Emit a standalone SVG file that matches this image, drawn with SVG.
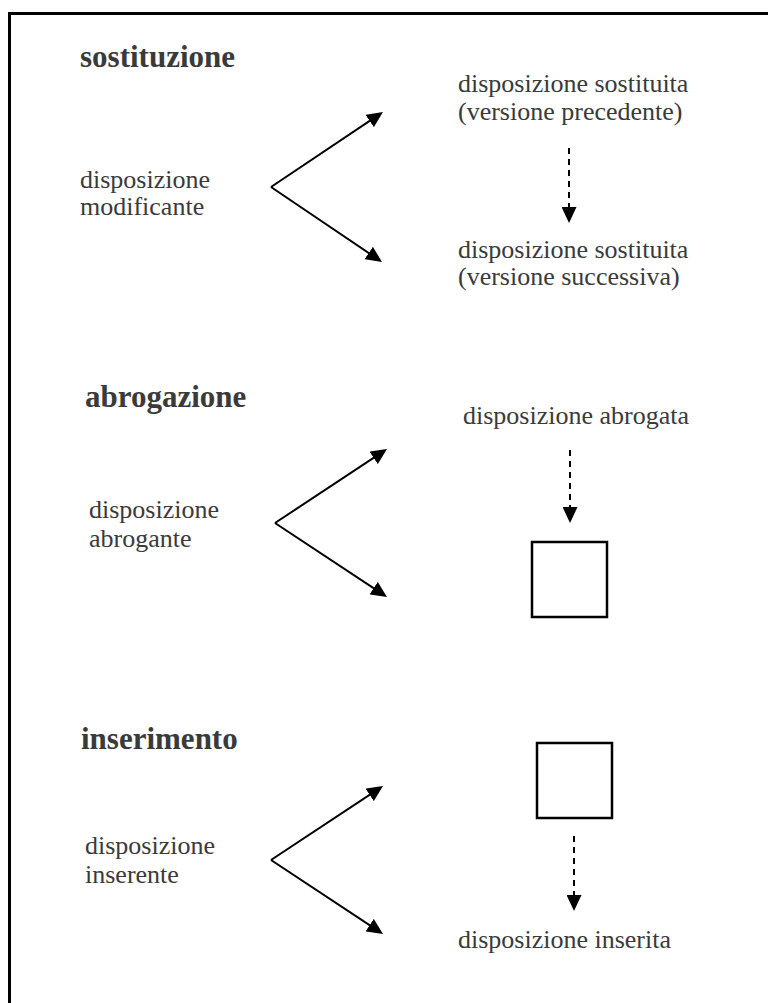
<svg xmlns="http://www.w3.org/2000/svg" width="768" height="1003" viewBox="0 0 768 1003">
  <style>
    text { font-family: "Liberation Serif", "Times New Roman", Times, serif; fill: #3a3a3a; }
    .title { font-weight: bold; font-size: 31px; }
    .label { font-size: 26px; }
    .arrow { fill: none; stroke: #000; stroke-width: 2; marker-end: url(#head); }
    .dashed { fill: none; stroke: #000; stroke-width: 2; stroke-dasharray: 6 5; marker-end: url(#head); }
    .box { fill: #fff; stroke: #000; stroke-width: 2.5; }
    .frame { fill: none; stroke: #000; stroke-width: 3; }
  </style>
  <defs>
    <marker id="head" markerUnits="userSpaceOnUse" markerWidth="17" markerHeight="15" refX="13" refY="7.5" orient="auto">
      <path d="M0,0 L16,7.5 L0,15 z" fill="#000"/>
    </marker>
  </defs>

  <rect width="768" height="1003" fill="#fff"/>
  <!-- page frame: top and left edges -->
  <path class="frame" d="M9.5,1003 V13.5 H768"/>

  <!-- sostituzione -->
  <g id="sostituzione">
    <text class="title" x="80" y="67">sostituzione</text>
    <text class="label" x="80" y="188">disposizione</text>
    <text class="label" x="80" y="215">modificante</text>
    <text class="label" x="458" y="92">disposizione sostituita</text>
    <text class="label" x="458" y="120">(versione precedente)</text>
    <text class="label" x="458" y="258">disposizione sostituita</text>
    <text class="label" x="458" y="285">(versione successiva)</text>
  </g>

  <!-- abrogazione -->
  <g id="abrogazione">
    <text class="title" x="85" y="407">abrogazione</text>
    <text class="label" x="89" y="518">disposizione</text>
    <text class="label" x="89" y="547">abrogante</text>
    <text class="label" x="463" y="424">disposizione abrogata</text>
    <rect class="box" x="532" y="542" width="75" height="75"/>
  </g>

  <!-- inserimento -->
  <g id="inserimento">
    <text class="title" x="81" y="749">inserimento</text>
    <text class="label" x="85" y="854">disposizione</text>
    <text class="label" x="85" y="883">inserente</text>
    <rect class="box" x="537" y="743" width="75" height="75"/>
    <text class="label" x="458" y="948">disposizione inserita</text>
  </g>

  <g id="connectors">
    <path class="arrow" d="M271,187 L380.5,113.7"/>
    <path class="arrow" d="M271,187 L379.5,260.3"/>
    <path class="dashed" d="M569,148 L569,220"/>

    <path class="arrow" d="M275,523 L384.5,450.7"/>
    <path class="arrow" d="M275,523 L384.5,595.3"/>
    <path class="dashed" d="M570,450 L570,520"/>

    <path class="arrow" d="M271,860 L380.5,787.7"/>
    <path class="arrow" d="M271,860 L380.5,932.3"/>
    <path class="dashed" d="M574,836 L574,908"/>
  </g>
</svg>
